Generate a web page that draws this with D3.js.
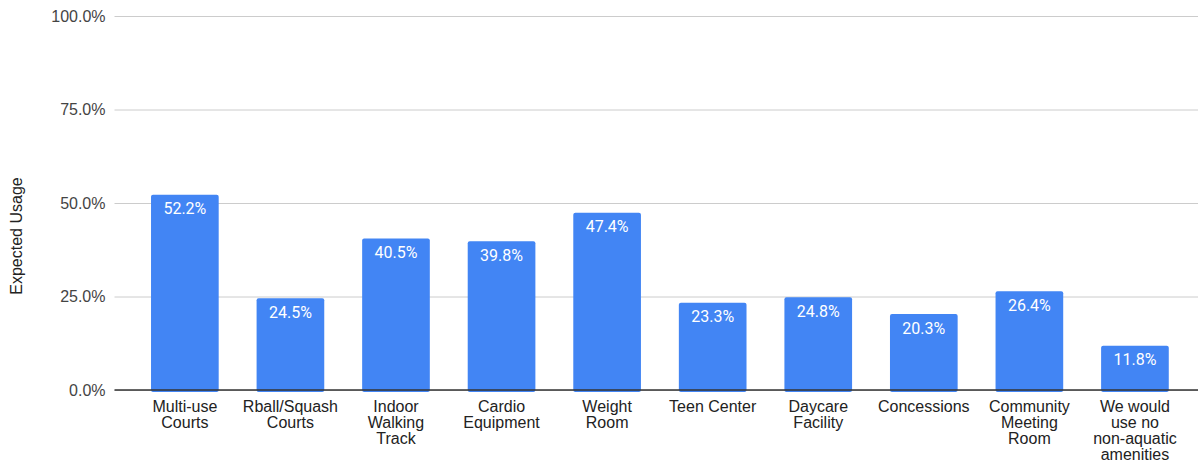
<!DOCTYPE html>
<html>
<head>
<meta charset="utf-8">
<script src="https://cdnjs.cloudflare.com/ajax/libs/d3/7.8.5/d3.min.js"></script>
<style>
  body { margin: 0; background: #fff; }
</style>
</head>
<body>
<script>
// Chart data
var categories = [
  ["Multi-use", "Courts"],
  ["Rball/Squash", "Courts"],
  ["Indoor", "Walking", "Track"],
  ["Cardio", "Equipment"],
  ["Weight", "Room"],
  ["Teen Center"],
  ["Daycare", "Facility"],
  ["Concessions"],
  ["Community", "Meeting", "Room"],
  ["We would", "use no", "non-aquatic", "amenities"]
];
var usage = [52.2, 24.5, 40.5, 39.8, 47.4, 23.3, 24.8, 20.3, 26.4, 11.8];
var yTicks = [0, 25, 50, 75, 100];

// SVG area
var svgWidth = 1199;
var svgHeight = 466;

var margin = { top: 16, right: 0, bottom: 76, left: 114.5 };
var chartHeight = svgHeight - margin.top - margin.bottom;

var svg = d3.select("body")
  .append("svg")
  .attr("width", svgWidth)
  .attr("height", svgHeight);

var chartGroup = svg.append("g")
  .attr("transform", `translate(${margin.left}, ${margin.top})`);

// Scales
var xBandScale = d3.scaleBand()
  .domain(d3.range(categories.length))
  .range([0, 1090.8])
  .paddingInner(0.359)
  .paddingOuter(0.346);

var yLinearScale = d3.scaleLinear()
  .domain([0, 100])
  .range([chartHeight, 0]);

// Gridlines + y tick labels
var leftAxis = d3.axisLeft(yLinearScale)
  .tickValues(yTicks)
  .tickSize(-(svgWidth - margin.left - 1))
  .tickPadding(9)
  .tickFormat(d => d.toFixed(1) + "%");

var yAxisGroup = chartGroup.append("g").call(leftAxis);
yAxisGroup.select(".domain").remove();
yAxisGroup.selectAll(".tick line").attr("stroke", "#cccccc");
yAxisGroup.selectAll(".tick text")
  .attr("font-family", "'Liberation Sans', Arial, sans-serif")
  .attr("font-size", "16px")
  .attr("fill", "#444444");

// bars
chartGroup.selectAll("rect.bar")
  .data(usage)
  .enter()
  .append("rect")
  .classed("bar", true)
  .attr("x", (d, i) => xBandScale(i))
  .attr("y", d => yLinearScale(d))
  .attr("width", xBandScale.bandwidth())
  .attr("height", d => chartHeight - yLinearScale(d) + 2)
  .attr("rx", 2)
  .attr("fill", "#4285f4");

// baseline
chartGroup.append("line")
  .attr("x1", 0)
  .attr("x2", svgWidth - margin.left - 1)
  .attr("y1", yLinearScale(0))
  .attr("y2", yLinearScale(0))
  .attr("stroke", "#333333")
  .attr("stroke-width", 1.3);

// value labels
chartGroup.selectAll("text.value")
  .data(usage)
  .enter()
  .append("text")
  .classed("value", true)
  .attr("x", (d, i) => xBandScale(i) + xBandScale.bandwidth() / 2)
  .attr("y", d => yLinearScale(d) + 19.5)
  .attr("text-anchor", "middle")
  .attr("font-family", "Roboto, sans-serif")
  .attr("font-size", "16px")
  .attr("fill", "#ffffff")
  .text(d => d.toFixed(1) + "%");

// category labels
var catLabels = chartGroup.selectAll("text.cat")
  .data(categories)
  .enter()
  .append("text")
  .classed("cat", true)
  .attr("transform", (d, i) => `translate(${xBandScale(i) + xBandScale.bandwidth() / 2}, ${chartHeight + 21.5})`)
  .attr("text-anchor", "middle")
  .attr("font-family", "'Liberation Sans', Arial, sans-serif")
  .attr("font-size", "16px")
  .attr("fill", "#222222");

catLabels.selectAll("tspan")
  .data(d => d)
  .enter()
  .append("tspan")
  .attr("x", 0)
  .attr("y", (d, i) => i * 16.3)
  .text(d => d);

// y-axis label
svg.append("text")
  .attr("transform", "translate(22, 236) rotate(-90)")
  .attr("text-anchor", "middle")
  .attr("font-family", "'Liberation Sans', Arial, sans-serif")
  .attr("font-size", "16px")
  .attr("fill", "#222222")
  .text("Expected Usage");
</script>
</body>
</html>
